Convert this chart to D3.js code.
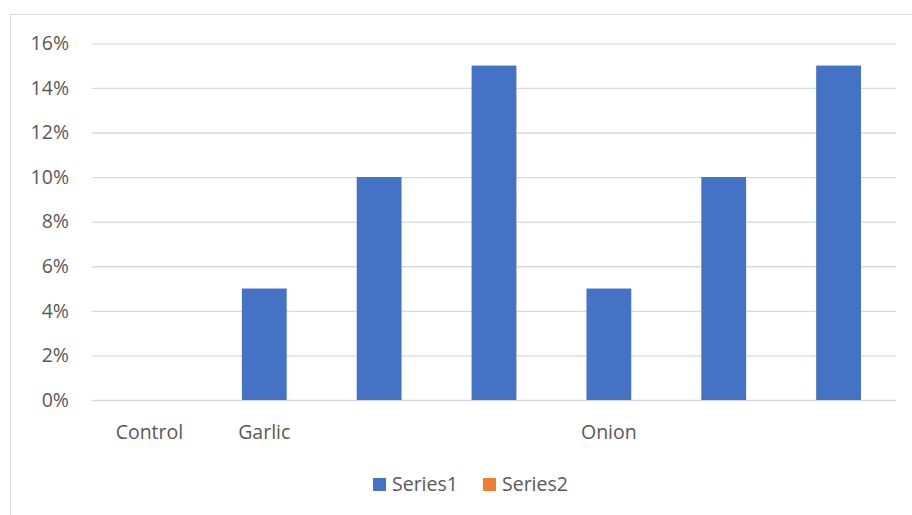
<!DOCTYPE html>
<html><head><meta charset="utf-8">
<script src="https://cdn.jsdelivr.net/npm/d3@7"></script>
<style>body{margin:0;background:#fff}svg{display:block}text{font-family:"Open Sans",Lato,sans-serif;fill:#595959}</style>
</head><body><svg id="c" width="912" height="515"></svg>
<script>
const categories = ["Control","Garlic","","","Onion","",""];
const series1 = [0,0.05,0.10,0.15,0.05,0.10,0.15];
const series2 = [null,null,null,null,null,null,null];
const yTicks = [0,0.02,0.04,0.06,0.08,0.10,0.12,0.14,0.16];
const seriesNames = ["Series1","Series2"];
const colors = ["#4472C4","#ED7D31"];

const svg = d3.select("#c");
svg.append("rect").attr("x",10.5).attr("y",14.5).attr("width",920).attr("height",520)
  .attr("fill","none").attr("stroke","#d9d9d9");

const m = {l:92, r:896, t:43.3, b:400};
const x = d3.scaleBand().domain(d3.range(categories.length)).range([m.l,m.r]).paddingInner(0.61).paddingOuter(0.305);
const y = d3.scaleLinear().domain([0,0.16]).range([m.b,m.t]);

const yAxis = d3.axisLeft(y).tickValues(yTicks).tickFormat(d3.format(".0%")).tickSize(-(m.r-m.l)).tickPadding(23);
const ga = svg.append("g").attr("transform",`translate(${m.l},0)`).call(yAxis);
ga.select(".domain").remove();
ga.selectAll("line").attr("stroke","#d9d9d9").attr("stroke-width",1.3);
ga.selectAll("text").attr("font-size",19.5).attr("fill","#595959");

svg.append("g").selectAll("rect").data(series1).join("rect")
  .attr("x",(d,i)=>x(i)).attr("width",x.bandwidth())
  .attr("y",d=>y(d)).attr("height",d=>y(0)-y(d)).attr("fill",colors[0]);

const band = (m.r-m.l)/categories.length;
svg.append("g").selectAll("text").data(categories).join("text")
  .attr("x",(d,i)=>m.l+band*(i+0.5)).attr("y",439).attr("text-anchor","middle")
  .attr("font-size",19.5).text(d=>d);

const lg = svg.append("g");
const lx = [373,483];
seriesNames.forEach((s,i)=>{
  lg.append("rect").attr("x",lx[i]).attr("y",478).attr("width",13).attr("height",13).attr("fill",colors[i]);
  lg.append("text").attr("x",lx[i]+19).attr("y",491).attr("font-size",19.5).text(s);
});
</script></body></html>
